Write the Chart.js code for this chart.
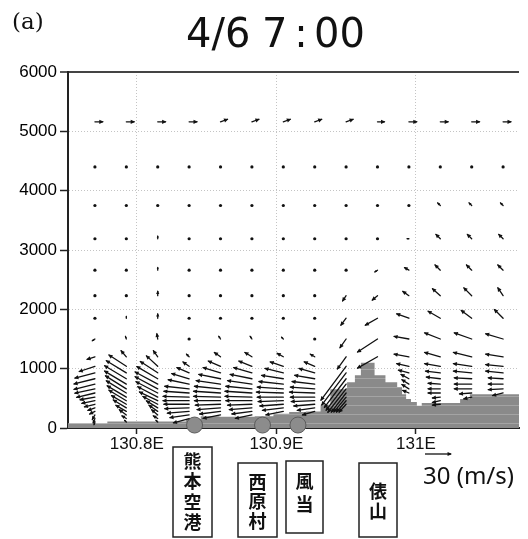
<!DOCTYPE html>
<html>
<head>
<meta charset="utf-8">
<script src="https://cdn.jsdelivr.net/npm/chart.js@4.4.1/dist/chart.umd.min.js"></script>
<style>
  html, body { margin: 0; padding: 0; background: #fff; }
  canvas { display: block; }
</style>
</head>
<body>
<canvas id="xsec" width="528" height="539"></canvas>
<script>
// 風ベクトルの列（経度）
const colLon = [130.770, 130.7925, 130.815, 130.8375, 130.860, 130.8825, 130.905,
                130.9275, 130.950, 130.9725, 130.995, 131.0175, 131.040, 131.0625];
// 高度 (m)
const levels = [100, 160, 220, 280, 340, 400, 460, 520, 590, 660, 740, 830, 930,
                1040, 1200, 1500, 1850, 2230, 2660, 3190, 3750, 4400, 5160];
// 東西風 u (m/s)、列ごと・下層から。地面より下は null
const uWind = [
  [-1, -2, -3, -6, -8, -12, -15, -17, -21, -23, -24, -24, -23, -18, -9, -3, 0, 0, 0, 0, 0, 0, 9],
  [-2, -5, -8, -12, -15, -17, -20, -22, -23, -24, -25, -25, -23, -20, -6, -1, 0, 0, 0, 0, 0, 0, 9],
  [-2, -5, -7, -10, -13, -17, -21, -23, -25, -26, -26, -24, -20, -13, -5, -1, 0, 0, 0, 0, 0, 0, 9],
  [null, -18, -22, -25, -28, -29, -30, -30, -29, -28, -24, -20, -14, -7, -3, 0, 0, 0, 0, 0, 0, 0, 9],
  [null, null, -20, -24, -27, -29, -30, -31, -31, -30, -28, -25, -20, -14, -7, -2, 0, 0, 0, 0, 0, 0, 8],
  [null, null, -19, -23, -26, -28, -30, -31, -31, -30, -28, -25, -21, -15, -8, -2, 0, 0, 0, 0, 0, 0, 8],
  [null, null, null, -20, -24, -27, -29, -30, -31, -30, -28, -25, -21, -15, -7, -2, 0, 0, 0, 0, 0, 0, 8],
  [null, null, null, -14, -20, -24, -27, -28, -29, -28, -26, -23, -18, -12, -5, -1, 0, 0, 0, 0, 0, 0, 8],
  [null, null, null, null, null, -8, -11, -14, -17, -21, -23, -25, -28, -29, -10, -7, -6, -4, -1, 0, 0, 0, 8],
  [null, null, null, null, null, null, null, null, null, null, null, null, null, null, -23, -23, -14, -6, -3, -1, 0, 0, 8],
  [null, null, null, null, null, null, null, null, -7, -8, -8, -9, -12, -14, -17, -17, -14, -7, -5, -2, 0, 0, 9],
  [null, null, null, null, null, -9, -9, -9, -14, -14, -14, -16, -17, -18, -18, -18, -14, -9, -6, -5, -3, 0, 9],
  [null, null, null, null, null, null, null, -9, -14, -20, -20, -20, -21, -21, -21, -20, -12, -9, -6, -5, -3, 0, 9],
  [null, null, null, null, null, null, null, null, -12, -17, -17, -17, -20, -20, -20, -20, -10, -6, -6, -5, -3, 0, 9]
];
// 鉛直風 w（強調表示, m/s）
const wWind = [
  [-3, -5, -5, -3, -3, -3, -3, -3, -5, -5, -6, -6, -6, -6, -3, -2, 0, 0, 0, 0, 0, 0, 0],
  [2, 3, 6, 7, 9, 10, 12, 13, 14, 15, 15, 15, 14, 13, 7, 3, 2, 0, 1, 1, 0, 0, 0],
  [2, 3, 6, 7, 8, 9, 10, 12, 13, 14, 14, 14, 13, 12, 7, 6, 5, 5, 3, 3, 1, 0, 0],
  [null, -5, -3, -2, -1, 0, 0, 1, 2, 3, 5, 6, 6, 5, 3, 1, 0, 0, 0, 0, 0, 0, 0],
  [null, null, -4, -3, -2, -1, 0, 1, 2, 3, 4, 5, 6, 6, 5, 3, 1, 0, 0, 0, 0, 0, 3],
  [null, null, -4, -3, -2, -1, 0, 1, 2, 3, 4, 5, 6, 6, 5, 3, 1, 0, 0, 0, 0, 0, 3],
  [null, null, null, -4, -3, -2, -1, 0, 1, 2, 3, 4, 5, 5, 4, 2, 1, 0, 0, 0, 0, 0, 3],
  [null, null, null, -4, -3, -2, -1, 0, 1, 2, 3, 4, 5, 5, 3, 1, 0, 0, 0, 0, 0, 0, 3],
  [null, null, null, null, null, -9, -13, -17, -22, -27, -30, -33, -37, -39, -14, -10, -8, -6, -1, 0, 0, 0, 3],
  [null, null, null, null, null, null, null, null, null, null, null, null, null, null, -13, -15, -8, -5, -2, -1, 0, 0, 0],
  [null, null, null, null, null, null, null, null, 3, 5, 5, 5, 3, 3, 3, 3, 5, 5, 3, 0, 0, 0, 0],
  [null, null, null, null, null, -1, -2, -1, 0, 0, 1, 2, 2, 3, 5, 7, 8, 8, 6, 5, 3, 0, 0],
  [null, null, null, null, null, null, null, -2, -1, 0, 0, 1, 2, 3, 5, 7, 9, 9, 6, 5, 3, 0, 0],
  [null, null, null, null, null, null, null, null, -3, -1, 0, 1, 2, 2, 3, 6, 10, 9, 6, 5, 3, 0, 0]
];
// 地形：区間の始点経度と標高 (m)
const terrainLon = [130.7507, 130.7789, 130.8352, 130.8458, 130.8592, 130.8845, 130.8979,
                    130.9092, 130.9211, 130.9317, 130.9387, 130.9507, 130.9563, 130.9606,
                    130.9704, 130.9782, 130.9866, 130.9901, 130.9930, 130.9965, 131.0007,
                    131.0042, 131.0317, 131.0387, 131.0500, 131.0739];
const terrainHeight = [85, 80, 110, 150, 200, 190, 200, 240, 270, 280, 390, 655, 770, 890,
                       1100, 890, 770, 690, 570, 490, 440, 375, 420, 490, 570, 570];
// 地点
const siteLon = [130.8414, 130.8901, 130.9155];
const siteNames = ['熊本空港', '西原村', '風当', '俵山'];
const xTicks = [130.8, 130.9, 131.0];
const yTicks = [0, 1000, 2000, 3000, 4000, 5000, 6000];

const PX_PER_MS = 26 / 30;   // 30 m/s の矢印 = 26px

// 地形の塗り（横縞）
function stripePattern() {
  const c = document.createElement('canvas');
  c.width = 4; c.height = 9;
  const g = c.getContext('2d');
  g.fillStyle = '#8a8a8a'; g.fillRect(0, 0, 4, 9);
  g.fillStyle = '#a4a4a4'; g.fillRect(0, 0, 4, 1);
  return g.createPattern(c, 'repeat');
}

function drawArrow(ctx, x0, y0, x1, y1) {
  const dx = x1 - x0, dy = y1 - y0;
  const len = Math.hypot(dx, dy);
  if (len < 1.5) {
    ctx.beginPath(); ctx.arc(x0, y0, 1.6, 0, Math.PI * 2); ctx.fill();
    return;
  }
  ctx.beginPath(); ctx.moveTo(x0, y0); ctx.lineTo(x1, y1); ctx.stroke();
  const a = Math.atan2(dy, dx), h = Math.min(4, len * 0.7);
  ctx.beginPath();
  ctx.moveTo(x1 + Math.cos(a), y1 + Math.sin(a));
  ctx.lineTo(x1 - h * Math.cos(a - 0.55), y1 - h * Math.sin(a - 0.55));
  ctx.lineTo(x1 - h * Math.cos(a + 0.55), y1 - h * Math.sin(a + 0.55));
  ctx.closePath(); ctx.fill();
}

// 格子点の風ベクトル
const windPoints = [];
colLon.forEach((lon, c) => {
  levels.forEach((z, k) => {
    if (uWind[c][k] === null) return;
    windPoints.push({ x: lon, y: z, u: uWind[c][k], w: wWind[c][k] });
  });
});

const windArrows = {
  id: 'windArrows',
  afterDatasetsDraw(chart) {
    const meta = chart.getDatasetMeta(1);
    const pts = chart.data.datasets[1].data;
    const { left, top, width, height } = chart.chartArea;
    const ctx = chart.ctx;
    ctx.save();
    ctx.beginPath(); ctx.rect(left, top, width, height); ctx.clip();
    ctx.strokeStyle = '#111'; ctx.fillStyle = '#111';
    ctx.lineWidth = 1.3; ctx.lineCap = 'round';
    meta.data.forEach((el, i) => {
      const d = pts[i];
      drawArrow(ctx, el.x, el.y, el.x + d.u * PX_PER_MS, el.y - d.w * PX_PER_MS);
    });
    ctx.restore();
  }
};

// 題目・地点名・凡例矢印
const labels = {
  id: 'labels',
  afterDraw(chart) {
    const ctx = chart.ctx;
    ctx.save();
    ctx.fillStyle = '#111';
    ctx.textBaseline = 'alphabetic';
    ctx.textAlign = 'left';
    ctx.font = '23px "DejaVu Serif"';
    ctx.fillText('(a)', 12, 29);

    ctx.font = '40px "DejaVu Sans"';
    ctx.fillText('4/6', 186, 47);
    ctx.fillText('7', 262, 47);
    ctx.textAlign = 'center';
    ctx.fillText(':', 301, 47);
    ctx.textAlign = 'left';
    ctx.fillText('00', 314, 47);

    // 地点名の枠（縦書き）
    const boxes = [
      { x: 173, y: 447, w: 39, h: 90, y0: 461, step: 20.5 },
      { x: 238, y: 463, w: 39, h: 74, y0: 482, step: 19.5 },
      { x: 286, y: 461, w: 37, h: 72, y0: 481, step: 23 },
      { x: 359, y: 463, w: 38, h: 74, y0: 491, step: 20 }
    ];
    ctx.strokeStyle = '#222'; ctx.lineWidth = 1.5;
    ctx.font = 'bold 18px "Noto Sans CJK JP"';
    ctx.textAlign = 'center'; ctx.textBaseline = 'middle';
    boxes.forEach((b, i) => {
      ctx.strokeRect(b.x, b.y, b.w, b.h);
      [...siteNames[i]].forEach((ch, j) => ctx.fillText(ch, b.x + b.w / 2, b.y0 + j * b.step));
    });

    // 30 m/s の基準矢印
    ctx.lineWidth = 1.3; ctx.strokeStyle = '#111';
    drawArrow(ctx, 425, 454, 425 + 30 * PX_PER_MS, 454);
    ctx.font = '24px "Noto Sans"';
    ctx.textAlign = 'left'; ctx.textBaseline = 'alphabetic';
    ctx.fillText('30 (m/s)', 423, 484);
    ctx.restore();
  }
};

const gridGray = '#c4c4c4';

new Chart(document.getElementById('xsec'), {
  type: 'scatter',
  data: {
    datasets: [
      {
        type: 'line',
        order: 3,
        data: terrainLon.map((x, i) => ({ x, y: terrainHeight[i] })),
        stepped: 'after',
        fill: 'origin',
        backgroundColor: stripePattern(),
        borderWidth: 0,
        borderColor: 'rgba(0,0,0,0)',
        pointRadius: 0
      },
      {
        order: 2,
        data: windPoints,
        pointRadius: 0,
        pointHoverRadius: 0
      },
      {
        order: 1,
        data: siteLon.map(x => ({ x, y: 50 })),
        pointRadius: 8,
        pointBackgroundColor: '#8c8c8c',
        pointBorderColor: '#5c5c5c',
        pointBorderWidth: 1,
        clip: false
      }
    ]
  },
  options: {
    responsive: false,
    animation: false,
    events: [],
    layout: { padding: { top: 72, right: 1, left: 0, bottom: 0 } },
    plugins: { legend: { display: false }, tooltip: { enabled: false } },
    scales: {
      x: {
        type: 'linear',
        min: 130.7507,
        max: 131.0739,
        afterBuildTicks: s => { s.ticks = xTicks.map(v => ({ value: v })); },
        afterFit: s => { s.height = 111; },
        ticks: {
          callback: v => (v === 131 ? '131E' : v.toFixed(1) + 'E'),
          font: { family: '"Liberation Sans", Arial', size: 17 },
          color: '#111',
          padding: 0,
          maxRotation: 0
        },
        grid: { color: gridGray, tickColor: '#222', tickLength: 6, tickWidth: 1.5 },
        border: { color: '#222', width: 2, dash: [1, 2] }
      },
      y: {
        min: 0,
        max: 6000,
        afterBuildTicks: s => { s.ticks = yTicks.map(v => ({ value: v })); },
        afterFit: s => { s.width = 68; },
        ticks: {
          callback: v => String(v),
          font: { family: '"Liberation Sans", Arial', size: 17 },
          color: '#000',
          padding: 3
        },
        grid: {
          color: c => (c.tick && c.tick.value === 6000 ? '#444' : (c.tick && c.tick.value === 0 ? 'rgba(0,0,0,0)' : gridGray)),
          lineWidth: c => (c.tick && c.tick.value === 6000 ? 2 : 1),
          tickColor: '#222', tickLength: 8, tickWidth: 1.5
        },
        border: { color: '#222', width: 2, dash: c => (c.tick && c.tick.value === 6000 ? [] : [1, 2]) }
      }
    }
  },
  plugins: [windArrows, labels]
});
</script>
</body>
</html>
